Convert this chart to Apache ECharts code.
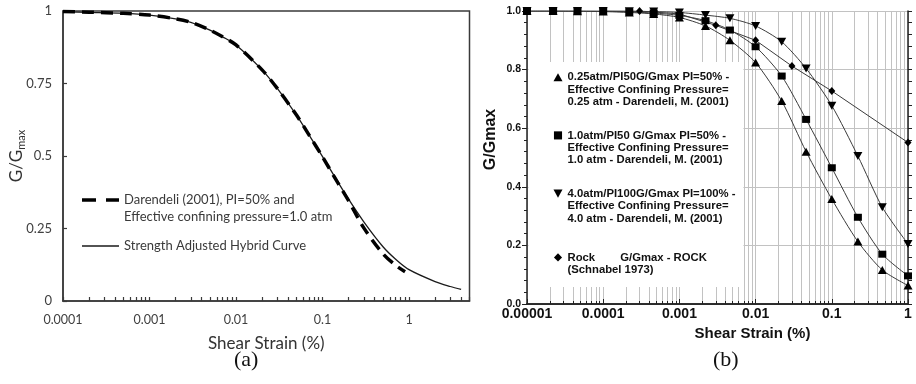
<!DOCTYPE html>
<html>
<head>
<meta charset="utf-8">
<script src="https://cdn.jsdelivr.net/npm/echarts@6/dist/echarts.min.js"></script>
<style>
  html, body { margin: 0; padding: 0; background: #fff; }
  #chart { width: 916px; height: 384px; }
</style>
</head>
<body>
<div id="chart"></div>
<script>
// ---- panel (a): strength adjusted hybrid curve vs Darendeli ----
const strainA = [0.0001, 0.0002, 0.0005, 0.001, 0.002, 0.003, 0.005, 0.007, 0.01, 0.02, 0.03, 0.05, 0.07, 0.1, 0.15, 0.2, 0.3, 0.5, 0.7, 1, 2, 3, 4];
const hybridA = [0.997, 0.995, 0.992, 0.986, 0.973, 0.961, 0.934, 0.911, 0.883, 0.797, 0.733, 0.641, 0.572, 0.498, 0.411, 0.351, 0.273, 0.187, 0.144, 0.108, 0.067, 0.05, 0.04];
const darendeliStrainA = [0.0001, 0.0002, 0.0005, 0.001, 0.002, 0.003, 0.005, 0.007, 0.01, 0.02, 0.03, 0.05, 0.07, 0.1, 0.15, 0.2, 0.3, 0.5, 0.7, 0.9];
const darendeliA = [0.998, 0.996, 0.992, 0.986, 0.973, 0.961, 0.934, 0.911, 0.883, 0.797, 0.733, 0.641, 0.572, 0.497, 0.408, 0.346, 0.252, 0.163, 0.123, 0.101];
const decadesA = [0.0001, 0.001, 0.01, 0.1, 1];
const xLabelsA = ['0.0001', '0.001', '0.01', '0.1', '1'];
const yValuesA = [0, 0.25, 0.5, 0.75, 1];
const yLabelsA = ['0', '0.25', '0.5', '0.75', '1'];
const namesA = [
  'Darendeli (2001), PI=50% and\nEffective confining pressure=1.0 atm',
  'Strength Adjusted Hybrid Curve'
];

// ---- panel (b): Darendeli family + rock curve ----
const strainB = [0.00001, 0.000022, 0.000046, 0.0001, 0.00022, 0.00046, 0.001, 0.0022, 0.0046, 0.01, 0.022, 0.046, 0.1, 0.22, 0.46, 1];
const gg025atm = [1.0, 1.0, 0.999, 0.998, 0.995, 0.99, 0.978, 0.949, 0.90, 0.824, 0.693, 0.52, 0.358, 0.213, 0.116, 0.063];
const gg10atm = [1.0, 1.0, 1.0, 0.999, 0.997, 0.993, 0.985, 0.967, 0.935, 0.878, 0.778, 0.63, 0.465, 0.296, 0.17, 0.096];
const gg40atm = [1.0, 1.0, 1.0, 1.0, 0.999, 0.998, 0.995, 0.986, 0.975, 0.949, 0.895, 0.804, 0.677, 0.505, 0.33, 0.205];
const rockStrain = [0.0001, 0.0003, 0.001, 0.003, 0.01, 0.03, 0.1, 1];
const rockGG = [1.0, 1.0, 0.99, 0.951, 0.90, 0.812, 0.727, 0.551];
const decadesB = [0.00001, 0.0001, 0.001, 0.01, 0.1, 1];
const xLabelsB = ['0.00001', '0.0001', '0.001', '0.01', '0.1', '1'];
const yValuesB = [0, 0.2, 0.4, 0.6, 0.8, 1];
const yLabelsB = ['0.0', '0.2', '0.4', '0.6', '0.8', '1.0'];
const namesB = [
  '0.25atm/PI50G/Gmax PI=50% -\nEffective Confining Pressure=\n0.25 atm - Darendeli, M. (2001)',
  '1.0atm/PI50 G/Gmax PI=50% -\nEffective Confining Pressure=\n1.0 atm - Darendeli, M. (2001)',
  '4.0atm/PI100G/Gmax PI=100% -\nEffective Confining Pressure=\n4.0 atm - Darendeli, M. (2001)',
  'Rock        G/Gmax - ROCK\n(Schnabel 1973)'
];

// log ticks for panel (a): 1..9 in every decade, up to the axis end
const xTicksA = [];
decadesA.forEach(d => {
  for (let k = 1; k <= 9; k++) {
    const v = +(d * k).toPrecision(6);
    if (v <= 5) xTicksA.push(v);
  }
});

const fontA = 'Lato, "Open Sans", sans-serif';
const fontB = '"Liberation Sans", Arial, sans-serif';

const pairs = (xs, ys) => xs.map((x, i) => [x, ys[i]]);
const logLabel = (values, labels) => v => {
  const i = values.findIndex(t => Math.abs(Math.log10(v) - Math.log10(t)) < 1e-6);
  return i < 0 ? '' : labels[i];
};
const linLabel = (values, labels) => v => {
  const i = values.findIndex(t => Math.abs(v - t) < 1e-6);
  return i < 0 ? '' : labels[i];
};

// legend icons: padded path so the mark sits beside the first text line
const iconDash = 'path://M0,0M0,1.75h14v3.5h-14zM24,1.75h13v3.5h-13zM37,24';
const iconSolid = 'path://M0,0M0,11.25h37v1.5h-37zM37,24';
const iconUp = 'path://M0,0M5,1.72L10,10.72L0,10.72ZM10,40';
const iconSquare = 'path://M0,0M0.5,1.72h9v9h-9ZM10,40';
const iconDown = 'path://M0,0M0,1.72L10,1.72L5,10.72ZM10,40';
const iconDiamond = 'path://M0,0M5,8.61L9.5,13.11L5,17.61L0.5,13.11ZM10,40';

const axisA = '#3a3a3a';
const axisB = '#222';
const gridGrey = '#c2c2c2';

const chart = echarts.init(document.getElementById('chart'));

const option = {
  animation: false,
  backgroundColor: '#fff',
  title: [
    { text: '(a)', left: 234, top: 349, padding: 0,
      textStyle: { fontFamily: '"Liberation Serif", serif', fontWeight: 'normal', fontSize: 22, color: '#111' } },
    { text: '(b)', left: 713, top: 349, padding: 0,
      textStyle: { fontFamily: '"Liberation Serif", serif', fontWeight: 'normal', fontSize: 22, color: '#111' } }
  ],
  legend: [
    {
      orient: 'vertical', left: 82, top: 191.5, padding: 0, itemGap: 8.5,
      itemWidth: 37, itemHeight: 24, selectedMode: false,
      textStyle: { fontFamily: fontA, fontSize: 13, lineHeight: 17, color: '#3a3a3a' },
      data: [
        { name: namesA[0], icon: iconDash, itemStyle: { color: '#000', borderWidth: 0 } },
        { name: namesA[1], icon: iconSolid, itemStyle: { color: '#1a1a1a', borderWidth: 0 } }
      ]
    },
    {
      orient: 'vertical', left: 528.5, top: 62, padding: [9, 8, 5.4, 25], itemGap: 21,
      itemWidth: 9, itemHeight: 36, selectedMode: false,
      backgroundColor: '#fff',
      textStyle: { fontFamily: fontB, fontWeight: 'bold', fontSize: 11.3, lineHeight: 12.4, color: '#111' },
      data: [
        { name: namesB[0], icon: iconUp, itemStyle: { color: '#000', borderWidth: 0 } },
        { name: namesB[1], icon: iconSquare, itemStyle: { color: '#000', borderWidth: 0 } },
        { name: namesB[2], icon: iconDown, itemStyle: { color: '#000', borderWidth: 0 } },
        { name: namesB[3], icon: iconDiamond, itemStyle: { color: '#000', borderWidth: 0 } }
      ]
    }
  ],
  grid: [
    { left: 63, top: 11, right: 446.5, bottom: 83, show: true, borderColor: axisA, borderWidth: 1.5,
      backgroundColor: 'transparent', outerBoundsMode: 'none', containLabel: false },
    { left: 527, top: 11, right: 8, bottom: 80, outerBoundsMode: 'none', containLabel: false }
  ],
  xAxis: [
    {
      gridIndex: 0, type: 'log', logBase: 10, min: 0.0001, max: 5,
      name: 'Shear Strain (%)', nameLocation: 'middle', nameGap: 34, nameMoveOverlap: false,
      nameTextStyle: { fontFamily: fontA, fontSize: 17, color: '#333' },
      axisLine: { lineStyle: { color: axisA, width: 1.5 } },
      axisTick: { show: true, inside: true, length: 4, customValues: xTicksA, lineStyle: { color: axisA, width: 1.2 } },
      axisLabel: { customValues: decadesA, formatter: logLabel(decadesA, xLabelsA), margin: 12,
        fontFamily: fontA, fontSize: 12.5, color: '#404040', hideOverlap: false },
      splitLine: { show: false }, minorTick: { show: false }
    },
    {
      gridIndex: 1, type: 'log', logBase: 10, min: 0.00001, max: 1,
      name: 'Shear Strain (%)', nameLocation: 'middle', nameGap: 22, nameMoveOverlap: false,
      nameTextStyle: { fontFamily: fontB, fontWeight: 'bold', fontSize: 15, color: '#111', padding: [0, 0, 0, 70] },
      axisLine: { lineStyle: { color: axisB, width: 1.5 } },
      axisTick: { show: true, inside: true, length: 5, lineStyle: { color: axisB } },
      minorTick: { show: true, splitNumber: 9, length: 3, lineStyle: { color: axisB } },
      axisLabel: { formatter: logLabel(decadesB, xLabelsB), margin: 3,
        fontFamily: fontB, fontWeight: 'bold', fontSize: 14, color: '#111', hideOverlap: false },
      splitLine: { show: true, lineStyle: { color: gridGrey, width: 1 } },
      minorSplitLine: { show: true, lineStyle: { color: gridGrey, width: 1 } }
    },
    {
      gridIndex: 1, type: 'log', logBase: 10, min: 0.00001, max: 1, position: 'top',
      axisLine: { lineStyle: { color: axisB, width: 1.5 } },
      axisTick: { show: true, inside: false, length: 5, lineStyle: { color: axisB } },
      minorTick: { show: true, splitNumber: 9, length: 3, lineStyle: { color: axisB } },
      axisLabel: { show: false },
      splitLine: { show: false }
    }
  ],
  yAxis: [
    {
      gridIndex: 0, type: 'value', min: 0, max: 1, interval: 0.25,
      name: '{n|G/G}{s|max}', nameLocation: 'middle', nameGap: 36, nameMoveOverlap: false,
      nameTextStyle: {
        color: '#333',
        rich: {
          n: { fontFamily: fontA, fontSize: 17, color: '#333', lineHeight: 20 },
          s: { fontFamily: fontA, fontSize: 11, color: '#333', verticalAlign: 'bottom', lineHeight: 12 }
        }
      },
      axisLine: { show: true, lineStyle: { color: axisA, width: 1.5 } },
      axisTick: { show: true, inside: true, length: 4, lineStyle: { color: axisA, width: 1.2 } },
      axisLabel: { formatter: linLabel(yValuesA, yLabelsA), margin: 11,
        fontFamily: fontA, fontSize: 13, color: '#404040' },
      splitLine: { show: false }
    },
    {
      gridIndex: 1, type: 'value', min: 0, max: 1, interval: 0.2,
      name: 'G/Gmax', nameLocation: 'middle', nameGap: 28, nameMoveOverlap: false,
      nameTextStyle: { fontFamily: fontB, fontWeight: 'bold', fontSize: 16, color: '#111', padding: [0, 0, 0, 36] },
      axisLine: { show: true, lineStyle: { color: axisB, width: 1.5 } },
      axisTick: { show: true, inside: false, length: 5, lineStyle: { color: axisB } },
      minorTick: { show: true, splitNumber: 5, length: 3, lineStyle: { color: axisB } },
      axisLabel: { formatter: linLabel(yValuesB, yLabelsB), margin: 6,
        fontFamily: fontB, fontWeight: 'bold', fontSize: 10.5, color: '#111' },
      splitLine: { show: true, lineStyle: { color: gridGrey, width: 1 } }
    },
    {
      gridIndex: 1, type: 'value', min: 0, max: 1, interval: 0.2, position: 'right',
      axisLine: { show: true, lineStyle: { color: axisB, width: 1.5 } },
      axisTick: { show: true, inside: false, length: 4, lineStyle: { color: axisB } },
      minorTick: { show: true, splitNumber: 5, length: 4, lineStyle: { color: axisB } },
      axisLabel: { show: false },
      splitLine: { show: false }
    }
  ],
  series: [
    {
      name: namesA[1], type: 'line', xAxisIndex: 0, yAxisIndex: 0,
      data: pairs(strainA, hybridA), showSymbol: false, symbol: 'none', smooth: 0.3,
      lineStyle: { color: '#1a1a1a', width: 1.3 }, itemStyle: { color: '#1a1a1a' }
    },
    {
      name: namesA[0], type: 'line', xAxisIndex: 0, yAxisIndex: 0,
      data: pairs(darendeliStrainA, darendeliA), showSymbol: false, symbol: 'none', smooth: 0.3,
      lineStyle: { color: '#000', width: 3.5, type: [12, 7], cap: 'butt' }, itemStyle: { color: '#000' }
    },
    {
      name: namesB[3], type: 'line', xAxisIndex: 1, yAxisIndex: 1,
      data: pairs(rockStrain, rockGG), symbol: 'diamond', symbolSize: [7, 8],
      lineStyle: { color: '#3a3a3a', width: 1 }, itemStyle: { color: '#000' }
    },
    {
      name: namesB[0], type: 'line', xAxisIndex: 1, yAxisIndex: 1,
      data: pairs(strainB, gg025atm), symbol: 'triangle', symbolSize: [9, 8], smooth: 0.25,
      lineStyle: { color: '#3a3a3a', width: 1 }, itemStyle: { color: '#000' }
    },
    {
      name: namesB[1], type: 'line', xAxisIndex: 1, yAxisIndex: 1,
      data: pairs(strainB, gg10atm), symbol: 'rect', symbolSize: [8, 7], smooth: 0.25,
      lineStyle: { color: '#3a3a3a', width: 1 }, itemStyle: { color: '#000' }
    },
    {
      name: namesB[2], type: 'line', xAxisIndex: 1, yAxisIndex: 1,
      data: pairs(strainB, gg40atm), symbol: 'triangle', symbolRotate: 180, symbolSize: [9, 8], smooth: 0.25,
      lineStyle: { color: '#3a3a3a', width: 1 }, itemStyle: { color: '#000' }
    }
  ]
};

chart.setOption(option);
</script>
</body>
</html>
